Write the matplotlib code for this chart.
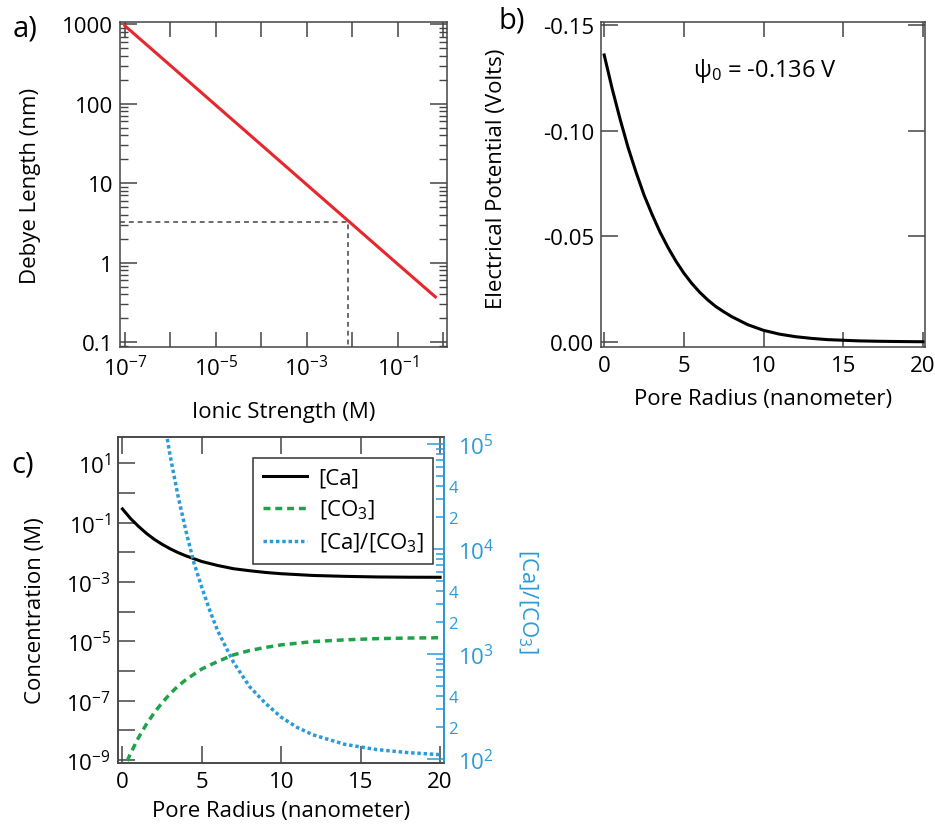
import numpy as np
import matplotlib
matplotlib.use("Agg")
import matplotlib.pyplot as plt
from matplotlib.ticker import LogLocator, FuncFormatter, NullLocator, NullFormatter

plt.rcParams.update({
    'font.family': ['Open Sans', 'DejaVu Sans'],
    'font.size': 16,
    'mathtext.fontset': 'custom',
    'mathtext.rm': 'Open Sans',
    'mathtext.it': 'Open Sans:italic',
    'mathtext.bf': 'Open Sans:bold',
    'axes.unicode_minus': False,
    'axes.linewidth': 1.1,
    'axes.edgecolor': '#444444',
    'xtick.color': '#444444',
    'ytick.color': '#444444',
    'xtick.labelcolor': 'black',
    'ytick.labelcolor': 'black',
})

RED = '#e8262b'
GREEN = '#1fa34a'
BLUE = '#2a9bd8'

# ---- a) Debye length vs ionic strength ----
ionic_strength = [1e-7, 1e-6, 1e-5, 1e-4, 1e-3, 1e-2, 1e-1, 0.68]
debye_nm = [960, 304, 96, 30.4, 9.6, 3.04, 0.96, 0.37]
mark_I = 0.0082      # ionic strength marked by dashed guide
mark_L = 3.2         # corresponding Debye length (nm)

# ---- b) electrical potential vs pore radius ----
radius_b = [0, 0.5, 1, 1.5, 2, 2.5, 3, 3.5, 4, 4.5, 5, 5.5, 6, 6.5, 7, 7.5,
            8, 9, 10, 11, 12, 13, 14, 15, 16, 17, 18, 19, 20]
potential_b = [-0.136, -0.120, -0.1055, -0.0921, -0.0804, -0.0696, -0.0605,
               -0.0521, -0.0448, -0.0383, -0.0326, -0.0277, -0.0235, -0.0199,
               -0.0168, -0.0143, -0.0120, -0.0082, -0.0055, -0.0037, -0.0025,
               -0.0017, -0.0011, -0.0008, -0.0005, -0.00035, -0.00024,
               -0.00016, -0.0001]

# ---- c) concentrations vs pore radius ----
radius_c = [0, 0.5, 1, 1.5, 2, 2.5, 3, 3.5, 4, 5, 6, 7, 8, 9, 10, 12, 14, 16, 18, 20]
ca = [2.9e-1, 1.4e-1, 7.6e-2, 4.4e-2, 2.75e-2, 1.86e-2, 1.32e-2, 9.8e-3,
      7.6e-3, 4.9e-3, 3.6e-3, 2.8e-3, 2.4e-3, 2.1e-3, 1.9e-3, 1.66e-3,
      1.55e-3, 1.48e-3, 1.45e-3, 1.44e-3]
co3 = [4.0e-10, 1.62e-9, 5.5e-9, 1.58e-8, 3.9e-8, 8.5e-8, 1.7e-7, 3.1e-7,
       5.1e-7, 1.17e-6, 2.1e-6, 3.5e-6, 4.9e-6, 6.2e-6, 7.6e-6, 9.8e-6,
       1.12e-5, 1.23e-5, 1.29e-5, 1.32e-5]
radius_ratio = [2.5, 3, 3.5, 4, 4.5, 5, 5.5, 6, 7, 8, 9, 10, 11, 12, 14, 16, 18, 20]
ratio = [2.2e5, 7.8e4, 3.2e4, 1.48e4, 7.4e3, 4.3e3, 2.6e3, 1.66e3, 830, 490,
         340, 250, 200, 170, 138, 123, 115, 110]


def odd_decade_label(v, pos):
    e = int(round(np.log10(v)))
    return f'$10^{{{e}}}$' if e % 2 else ''


def decade_label(v, pos):
    e = int(round(np.log10(v)))
    return f'$10^{{{e}}}$'


def minor_24_label(v, pos):
    m = v / 10 ** np.floor(np.log10(v) + 1e-9)
    m = int(round(m))
    return str(m) if m in (2, 4) else ''


fig = plt.figure(figsize=(9.35, 8.29), dpi=100)

# ================= a) =================
ax_a = fig.add_axes([0.1283, 0.5802, 0.3497, 0.3920])
xlim_a = (7.8e-8, 1.22)
ylim_a = (0.0865, 1069)
ax_a.plot(ionic_strength, debye_nm, color=RED, lw=2.2, zorder=3)
ax_a.plot([xlim_a[0], mark_I, mark_I], [mark_L, mark_L, ylim_a[0]],
          color='#444444', lw=1.1, ls=(0, (3.2, 2.6)), zorder=2)
ax_a.set_xscale('log')
ax_a.set_yscale('log')
ax_a.set_xlim(xlim_a)
ax_a.set_ylim(ylim_a)
ax_a.xaxis.set_major_locator(LogLocator(base=10, numticks=20))
ax_a.xaxis.set_major_formatter(FuncFormatter(odd_decade_label))
ax_a.xaxis.set_minor_locator(NullLocator())
ax_a.yaxis.set_major_locator(LogLocator(base=10, numticks=20))
ax_a.yaxis.set_major_formatter(FuncFormatter(lambda v, p: f'{v:g}'))
ax_a.yaxis.set_minor_locator(LogLocator(base=10, subs=np.arange(2, 10), numticks=20))
ax_a.yaxis.set_minor_formatter(NullFormatter())
ax_a.tick_params(axis='x', which='major', direction='in', top=True,
                 length=11, width=1.1, pad=6)
ax_a.tick_params(axis='y', which='major', direction='in', right=True,
                 length=12, width=1.1, pad=5)
ax_a.tick_params(axis='y', which='minor', direction='in', right=True,
                 length=6, width=1.0)
ax_a.set_xlabel('Ionic Strength (M)')
ax_a.set_ylabel('Debye Length (nm)')
ax_a.xaxis.set_label_coords(0.5, -0.165)
ax_a.yaxis.set_label_coords(-0.24, 0.5)

# ================= b) =================
ax_b = fig.add_axes([0.6428, 0.5802, 0.3465, 0.3920])
ax_b.plot(radius_b, potential_b, color='black', lw=2.2)
ax_b.set_xlim(-0.2, 20.13)
ax_b.set_ylim(0.0024, -0.1516)
ax_b.set_xticks([0, 5, 10, 15, 20])
ax_b.set_yticks([0.0, -0.05, -0.10, -0.15])
ax_b.yaxis.set_major_formatter(FuncFormatter(lambda v, p: f'{v:.2f}'))
ax_b.tick_params(axis='x', direction='in', top=True, length=11, width=1.1, pad=6)
ax_b.tick_params(axis='y', direction='in', right=True, length=12, width=1.1, pad=5)
ax_b.set_xlabel('Pore Radius (nanometer)')
ax_b.set_ylabel('Electrical Potential (Volts)')
ax_b.xaxis.set_label_coords(0.5, -0.125)
ax_b.yaxis.set_label_coords(-0.29, 0.52)
ax_b.text(10.1, -0.129, 'ψ$_0$ = -0.136 V', fontsize=17, ha='center', va='center')

# ================= c) =================
ax_c = fig.add_axes([0.1262, 0.0784, 0.3487, 0.3932])
l_ca, = ax_c.plot(radius_c, ca, color='black', lw=2.2, label='[Ca]')
l_co3, = ax_c.plot(radius_c, co3, color=GREEN, lw=2.5, ls=(0, (2.0, 1.4)),
                   label='[CO$_3$]')
ax_c.set_yscale('log')
ax_c.set_xlim(-0.28, 20.25)
ax_c.set_ylim(7.9e-10, 77)
ax_c.set_xticks([0, 5, 10, 15, 20])
ax_c.yaxis.set_major_locator(LogLocator(base=10, numticks=20))
ax_c.yaxis.set_major_formatter(FuncFormatter(odd_decade_label))
ax_c.yaxis.set_minor_locator(NullLocator())
ax_c.tick_params(axis='x', direction='in', top=True, length=12, width=1.1, pad=6)
ax_c.tick_params(axis='y', which='major', direction='in', right=False,
                 length=12, width=1.1, pad=5)
ax_c.set_xlabel('Pore Radius (nanometer)')
ax_c.set_ylabel('Concentration (M)')
ax_c.xaxis.set_label_coords(0.5, -0.112)
ax_c.yaxis.set_label_coords(-0.22, 0.47)

ax_c2 = ax_c.twinx()
l_ratio, = ax_c2.plot(radius_ratio, ratio, color=BLUE, lw=2.5, ls=(0, (1.0, 0.8)),
                      label='[Ca]/[CO$_3$]')
ax_c2.set_yscale('log')
ax_c2.set_ylim(91.6, 1.166e5)
ax_c2.yaxis.set_major_locator(LogLocator(base=10, numticks=20))
ax_c2.yaxis.set_major_formatter(FuncFormatter(decade_label))
ax_c2.yaxis.set_minor_locator(LogLocator(base=10, subs=np.arange(2, 10), numticks=20))
ax_c2.yaxis.set_minor_formatter(FuncFormatter(minor_24_label))
ax_c2.tick_params(axis='y', which='major', direction='in', length=12, width=1.1,
                  pad=10, color=BLUE, labelcolor=BLUE)
ax_c2.tick_params(axis='y', which='minor', direction='in', length=6, width=1.1,
                  pad=3, color=BLUE, labelcolor=BLUE, labelsize=12)
ax_c2.spines['right'].set_color(BLUE)
ax_c2.spines['right'].set_linewidth(1.3)
ax_c2.set_ylabel('[Ca]/[CO$_3$]', color=BLUE, rotation=270, va='center',
                 ha='center', rotation_mode='anchor')
ax_c2.yaxis.set_label_coords(1.255, 0.5)

leg = ax_c2.legend(handles=[l_ca, l_co3, l_ratio], loc='upper left',
                   bbox_to_anchor=(0.414, 0.936), borderaxespad=0,
                   fancybox=False, framealpha=1, edgecolor='#333333',
                   handlelength=2.0, handletextpad=0.5, labelspacing=0.42,
                   borderpad=0.45, fontsize=16)
leg.get_frame().set_linewidth(1.1)

# panel letters
fig.text(0.014, 1 - 29 / 829, 'a)', fontsize=21, va='center')
fig.text(0.533, 1 - 21 / 829, 'b)', fontsize=21, va='center')
fig.text(0.012, 1 - 465 / 829, 'c)', fontsize=21, va='center')

fig.savefig('out.png', dpi=100)
